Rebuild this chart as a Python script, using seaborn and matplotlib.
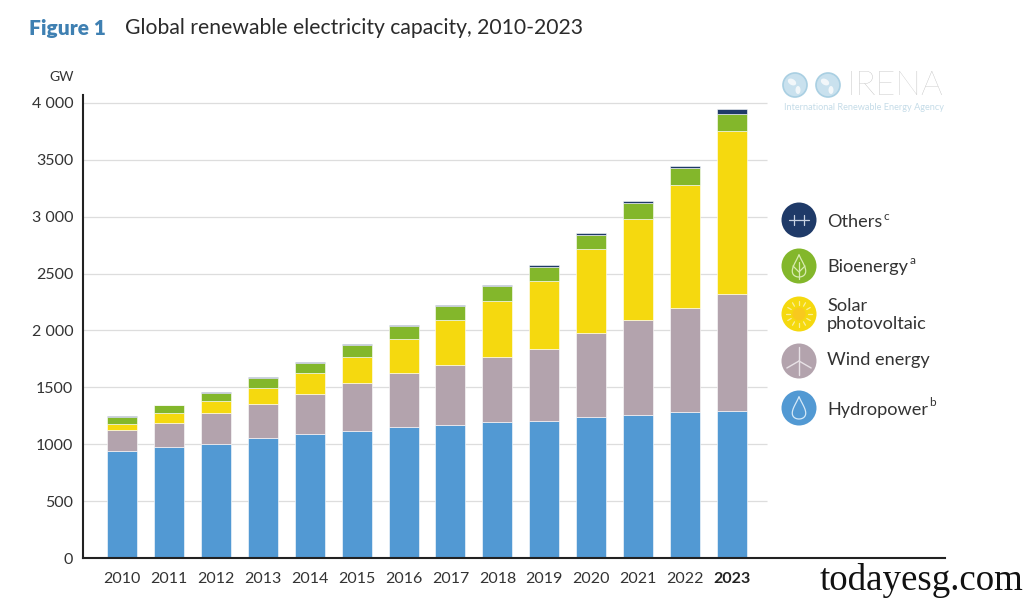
import numpy as np
import matplotlib.pyplot as plt
from matplotlib.patches import Circle, Ellipse
import seaborn as sns

years = ['2010', '2011', '2012', '2013', '2014', '2015', '2016',
         '2017', '2018', '2019', '2020', '2021', '2022', '2023']
hydro = [941, 976, 1002, 1055, 1090, 1120, 1152, 1172, 1195, 1204, 1240, 1257, 1283, 1292]
wind = [184, 211, 273, 299, 352, 418, 474, 525, 572, 633, 738, 835, 915, 1029]
solar = [53, 88, 105, 140, 184, 229, 299, 395, 492, 598, 738, 888, 1081, 1433]
bio = [64, 66, 74, 91, 91, 104, 113, 120, 129, 126, 125, 140, 150, 149]
others = [6, 6, 6, 6, 8, 10, 10, 12, 12, 14, 14, 18, 14, 47]

y_ticks = [0, 500, 1000, 1500, 2000, 2500, 3000, 3500, 4000]
y_labels = ['0', '500', '1000', '1500', '2 000', '2500', '3 000', '3500', '4 000']

series = [
    (hydro, '#5299D3'),
    (wind, '#B3A3AD'),
    (solar, '#F5D90F'),
    (bio, '#83B72B'),
    (others, '#1F3A68'),
]

sns.set_theme(style='white')
plt.rcParams['font.family'] = ['Lato', 'DejaVu Sans']
TXT = '#333333'

fig = plt.figure(figsize=(10.24, 5.99), dpi=100, facecolor='white')
# axes box in pixels: x 83..945, y 95..558
ax = fig.add_axes([83 / 1024, 1 - 558 / 599, (945 - 83) / 1024, (558 - 95) / 599])

bottom = np.zeros(len(years))
for values, color in series:
    sns.barplot(x=years, y=values, bottom=bottom, color=color, saturation=1, width=0.64,
                errorbar=None, edgecolor='white', linewidth=0.4, zorder=3, ax=ax)
    bottom = bottom + np.array(values)

ax.set_xlim(-0.831, 17.54)
ax.set_ylim(0, 4070)
ax.hlines(y_ticks[1:], -0.831, 13.75, color='#DDDDDD', linewidth=0.9, zorder=1)

ax.set_yticks(y_ticks)
ax.set_yticklabels(y_labels)
ax.tick_params(axis='both', length=0, labelsize=11.5, labelcolor=TXT)
ax.tick_params(axis='x', pad=10)
ax.tick_params(axis='y', pad=7)
ax.get_xticklabels()[-1].set_fontweight('bold')
ax.get_xticklabels()[-1].set_color('#222222')

for side in ['top', 'right']:
    ax.spines[side].set_visible(False)
for side in ['left', 'bottom']:
    ax.spines[side].set_color('#222222')
    ax.spines[side].set_linewidth(1.5)
    ax.spines[side].set_zorder(6)

# overlay in pixel coordinates for the title, legend and logo
ov = fig.add_axes([0, 0, 1, 1])
ov.set_xlim(0, 1024)
ov.set_ylim(599, 0)
ov.axis('off')
ov.patch.set_visible(False)

ov.text(29, 28, 'Figure 1', fontsize=15, fontweight='heavy', color='#3F80B2', va='center')
ov.text(125, 28, 'Global renewable electricity capacity, 2010-2023', fontsize=15.2,
        color='#2B2B2B', va='center')
ov.text(62, 77, 'GW', fontsize=10, color=TXT, ha='center', va='center')

# legend
legend_rows = [
    (220, '#1F3A68', [('Others', 222)], ('c', 886, 216)),
    (266, '#83B72B', [('Bioenergy', 267)], ('a', 913, 261)),
    (314, '#F5D90F', [('Solar', 306), ('photovoltaic', 324)], None),
    (361, '#B3A3AD', [('Wind energy', 360)], None),
    (408, '#5299D3', [('Hydropower', 410)], ('b', 932, 403)),
]
for cy, color, lines, sup in legend_rows:
    ov.add_patch(Circle((799, cy), 17.5, color=color, lw=0))
    for label, ty in lines:
        ov.text(827, ty, label, fontsize=13.1, color=TXT, va='center')
    if sup:
        ov.text(sup[1], sup[2], sup[0], fontsize=8.5, color=TXT, ha='center', va='center')

# icon glyphs
lw = 0.9
for cx in (794, 804):
    ov.plot([cx - 5, cx + 5], [220, 220], color='#C9D3E3', lw=lw)
    ov.plot([cx, cx], [215, 225], color='#C9D3E3', lw=lw)

t = np.linspace(0, 2 * np.pi, 60)
leaf_x = 799 + 10 * np.sin(t) * (0.55 + 0.45 * np.cos(t - np.pi))
leaf_y = 266 - 11 * np.cos(t)
ov.plot(leaf_x, leaf_y, color='#D8EBB0', lw=lw)
ov.plot([799, 799], [262, 279], color='#D8EBB0', lw=lw)
ov.plot([793, 799, 805], [266, 272, 266], color='#D8EBB0', lw=lw)

ov.add_patch(Circle((799, 314), 6.5, color='#F8C91E', lw=0))
for a in np.linspace(0, 2 * np.pi, 12, endpoint=False):
    ov.plot([799 + 9 * np.cos(a), 799 + 13 * np.cos(a)],
            [314 + 9 * np.sin(a), 314 + 13 * np.sin(a)], color='#FBEE9A', lw=lw)

ov.plot([799, 799], [361, 375], color='#E8E2E6', lw=1)
for a in (-90, 30, 150):
    r = np.deg2rad(a)
    ov.plot([799, 799 + 14 * np.cos(r)], [361, 361 + 14 * np.sin(r)], color='#E8E2E6', lw=1)

drop_x = 799 + 10 * np.sin(t) * (0.55 + 0.45 * np.cos(t - np.pi))
drop_y = 408 - 11 * np.cos(t)
ov.plot(drop_x, drop_y, color='#D5E9F8', lw=lw)

# logo
for cx in (795, 828):
    ov.add_patch(Circle((cx, 85), 12, facecolor='#C9E1EE', edgecolor='#A9CFE2', lw=1.2))
    ov.add_patch(Ellipse((cx - 3, 82), 9, 6, angle=30, color='#F2F7FA', lw=0))
    ov.add_patch(Ellipse((cx + 3, 90), 5, 8, color='#F2F7FA', lw=0))
ov.text(847, 86, 'IRENA', fontsize=24.5, color='#B8B8B8', va='center', fontweight='light')
ov.text(784, 108, 'International Renewable Energy Agency', fontsize=6.6, color='#C5DCE8', va='center')

# site mark
ov.text(820, 580, 'todayesg.com', fontsize=26.6, family='Liberation Serif', color='#111111', va='center')

fig.savefig('out.png', dpi=100)
